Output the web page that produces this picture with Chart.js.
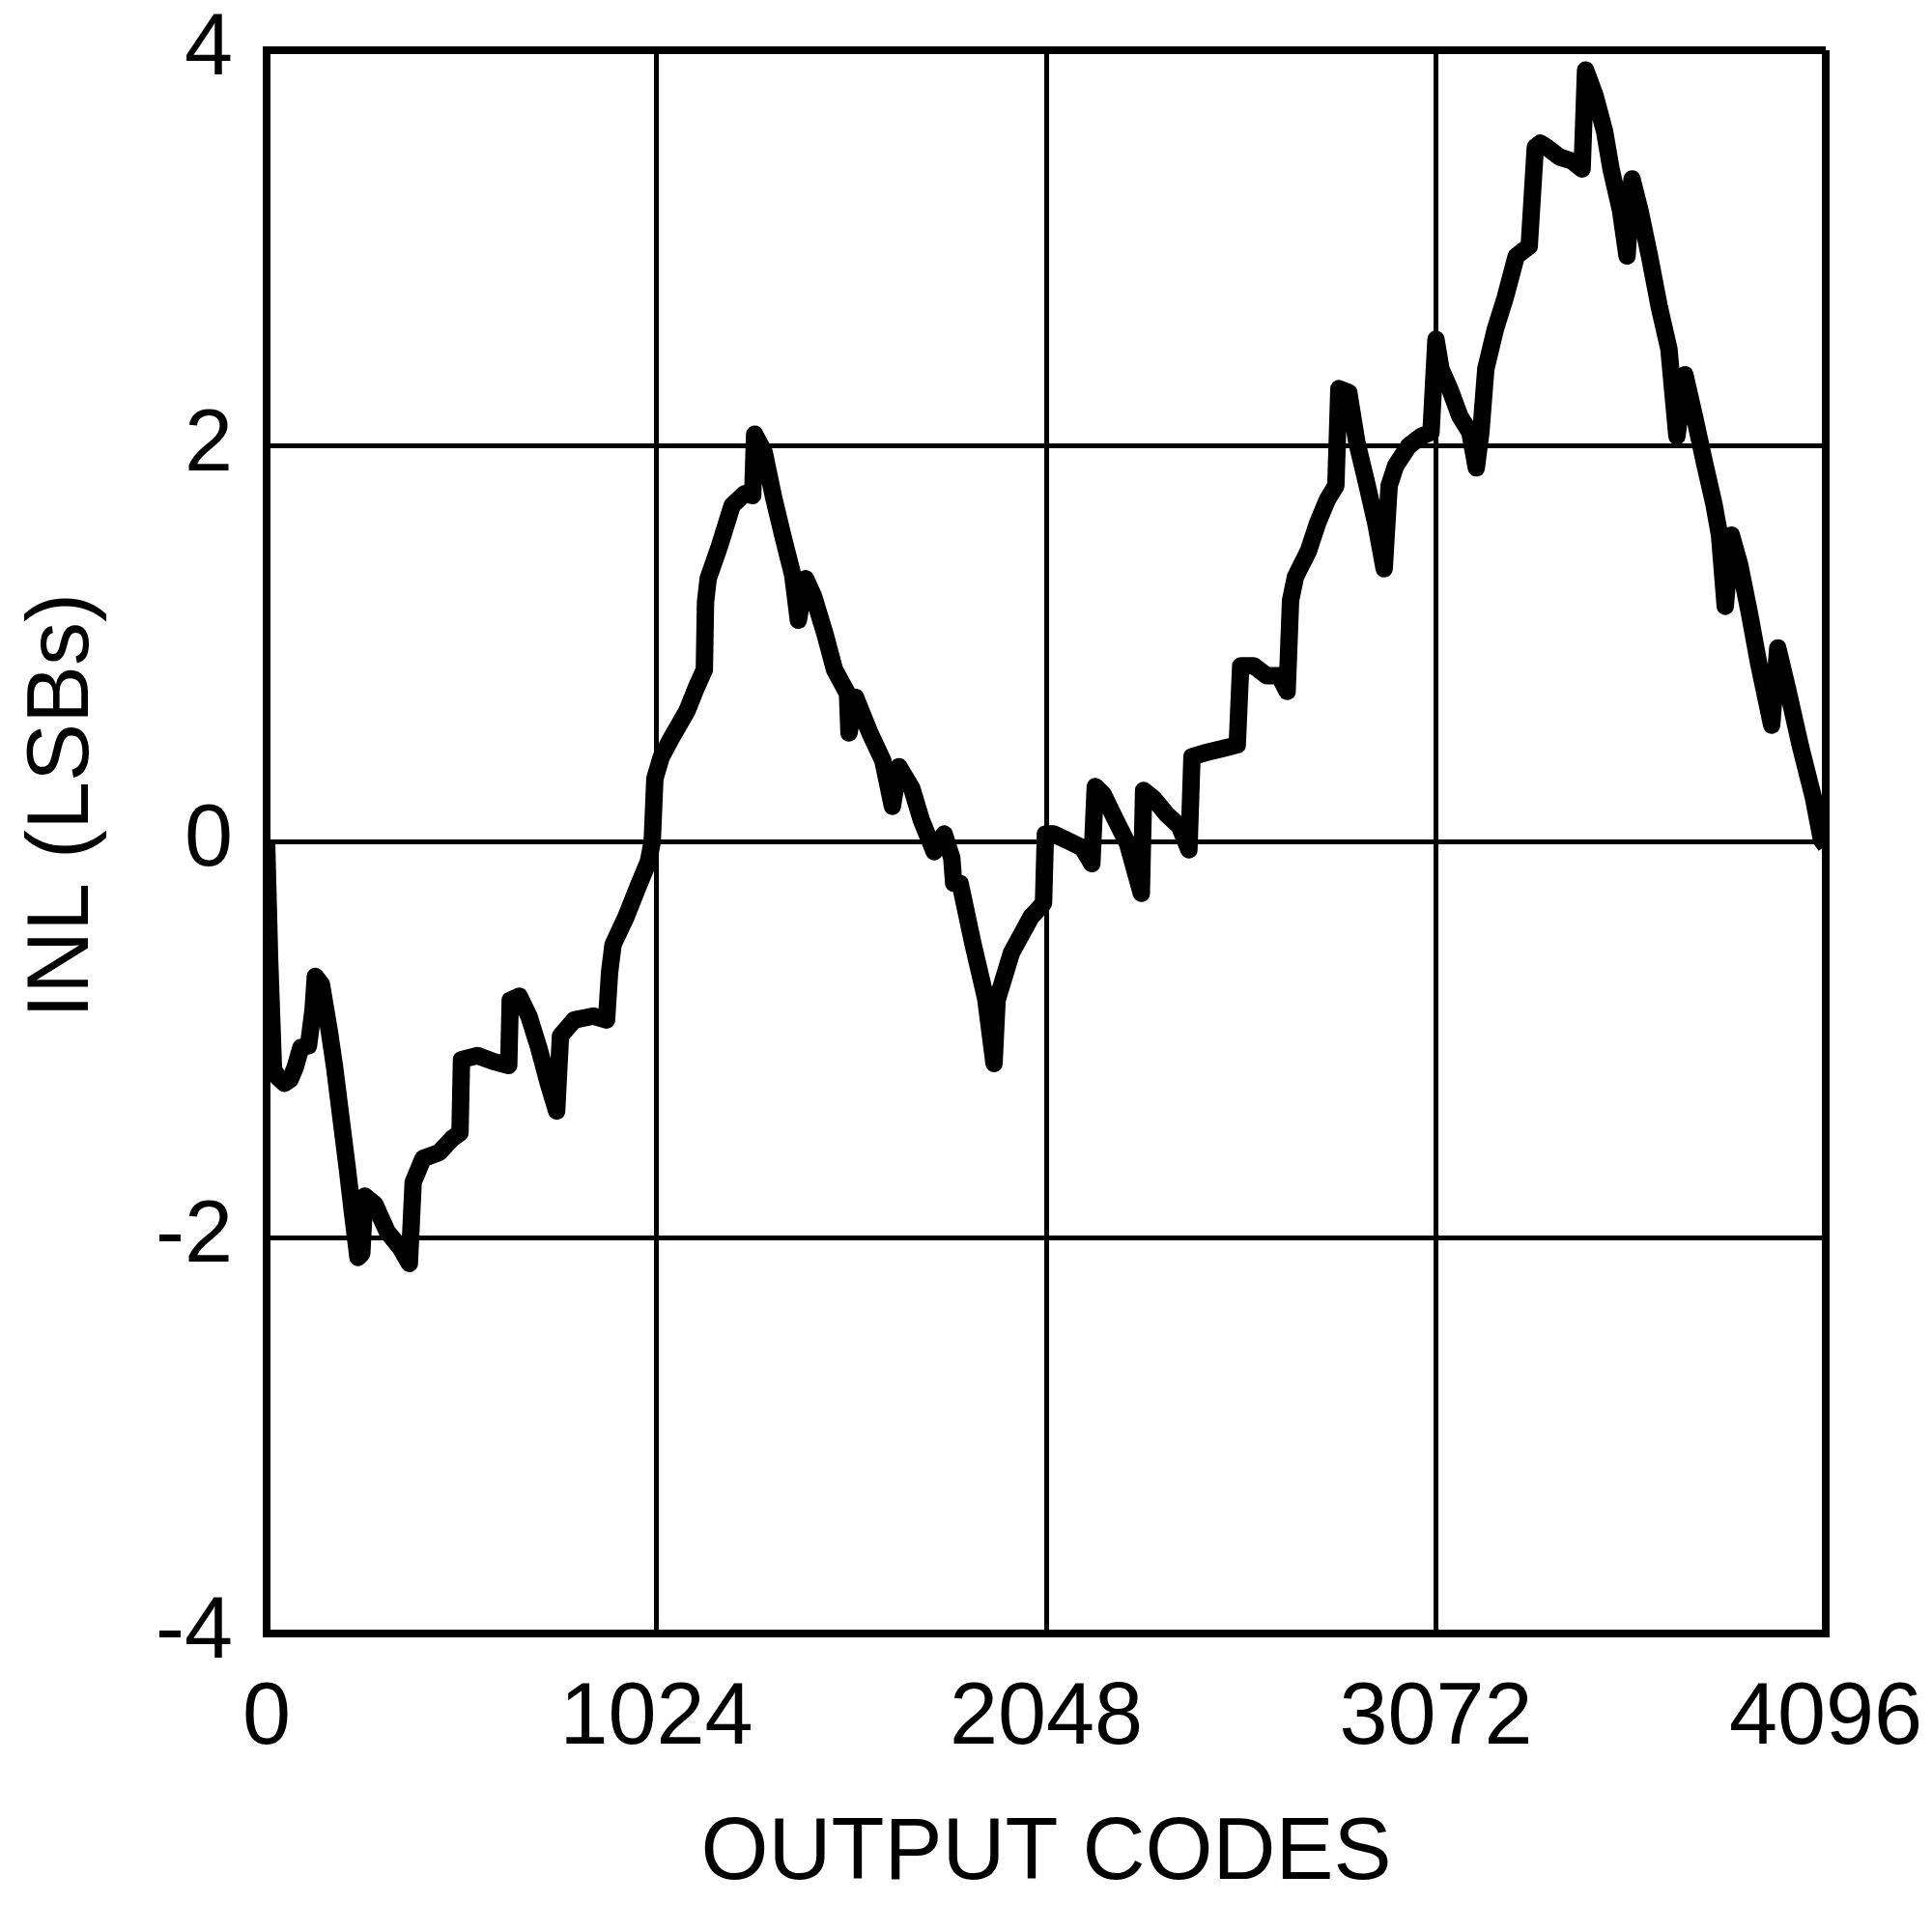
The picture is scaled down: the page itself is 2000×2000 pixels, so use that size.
<!DOCTYPE html>
<html>
<head>
<meta charset="utf-8">
<script src="https://cdn.jsdelivr.net/npm/chart.js@4/dist/chart.umd.min.js"></script>
<style>
  body { margin: 0; background: #fff; }
  #wrap { width: 2000px; height: 2000px; }
</style>
</head>
<body>
<div id="wrap"><canvas id="canvas" width="2000" height="2000"></canvas></div>
<script>
// INL vs output code
var codes = [
  0, 8, 18, 30, 47, 62, 75, 90, 110, 122, 128, 144, 165, 178, 195, 212, 226, 240, 250, 258,
  284, 317, 351, 375, 385, 411, 453, 487, 508, 512, 554, 596, 636, 640, 664, 689, 715, 740, 762, 772,
  808, 859, 893, 901, 910, 944, 977, 1003, 1013, 1020, 1037, 1062, 1104, 1129, 1150, 1153, 1160, 1189, 1223, 1256,
  1277, 1282, 1307, 1332, 1357, 1382, 1397, 1416, 1437, 1467, 1492, 1526, 1530, 1547, 1585, 1619, 1644, 1661, 1695, 1720,
  1754, 1780, 1800, 1805, 1822, 1855, 1889, 1911, 1919, 1957, 2008, 2041, 2046, 2067, 2101, 2143, 2168, 2177, 2198, 2228,
  2262, 2298, 2304, 2330, 2364, 2398, 2423, 2431, 2465, 2508, 2550, 2559, 2593, 2627, 2660, 2681, 2690, 2703, 2737, 2761,
  2787, 2809, 2817, 2843, 2864, 2889, 2914, 2936, 2949, 2966, 3000, 3034, 3059, 3072, 3085, 3110, 3135, 3161, 3178, 3190,
  3203, 3228, 3254, 3283, 3317, 3333, 3346, 3363, 3397, 3430, 3456, 3465, 3490, 3515, 3532, 3557, 3574, 3587, 3608, 3633,
  3659, 3684, 3705, 3726, 3751, 3777, 3802, 3817, 3832, 3848, 3870, 3895, 3920, 3954, 3970, 3996, 4030, 4064, 4085, 4096
];
var inl = [
  0.0, -0.6, -1.15, -1.19, -1.22, -1.2, -1.14, -1.04, -1.03, -0.85, -0.68, -0.72, -0.96, -1.13, -1.39, -1.65, -1.88, -2.1, -2.08, -1.79,
  -1.83, -1.97, -2.05, -2.13, -1.72, -1.6, -1.57, -1.5, -1.47, -1.1, -1.08, -1.11, -1.13, -0.8, -0.78, -0.88, -1.04, -1.22, -1.36, -0.98,
  -0.9, -0.88, -0.9, -0.66, -0.52, -0.38, -0.22, -0.1, 0.0, 0.32, 0.43, 0.52, 0.66, 0.78, 0.87, 1.21, 1.33, 1.49, 1.7, 1.76,
  1.75, 2.06, 1.97, 1.74, 1.54, 1.35, 1.12, 1.33, 1.24, 1.05, 0.87, 0.75, 0.55, 0.73, 0.55, 0.41, 0.18, 0.38, 0.27, 0.11,
  -0.05, 0.04, -0.08, -0.21, -0.21, -0.51, -0.79, -1.12, -0.8, -0.56, -0.38, -0.31, 0.04, 0.04, 0.01, -0.03, -0.11, 0.28, 0.24, 0.12,
  -0.01, -0.26, 0.26, 0.22, 0.14, 0.08, -0.04, 0.43, 0.45, 0.47, 0.49, 0.89, 0.89, 0.84, 0.84, 0.76, 1.22, 1.34, 1.47, 1.61,
  1.73, 1.8, 2.29, 2.27, 2.02, 1.82, 1.61, 1.38, 1.8, 1.9, 2.0, 2.05, 2.07, 2.54, 2.39, 2.28, 2.15, 2.07, 1.89, 2.07,
  2.39, 2.59, 2.75, 2.96, 3.01, 3.51, 3.53, 3.51, 3.46, 3.44, 3.4, 3.9, 3.77, 3.59, 3.4, 3.19, 2.96, 3.35, 3.19, 2.96,
  2.7, 2.49, 2.05, 2.36, 2.15, 1.92, 1.71, 1.55, 1.19, 1.55, 1.4, 1.16, 0.9, 0.59, 0.98, 0.77, 0.48, 0.22, 0.01, -0.02
];
var xTicks = [0, 1024, 2048, 3072, 4096];
var yTicks = [-4, -2, 0, 2, 4];

Chart.defaults.font.family = "'Liberation Sans', Arial, sans-serif";
Chart.defaults.color = "#000";

var points = codes.map(function (c, i) {
  return { x: c, y: inl[i] };
});

// fixed axis boxes, no extra label overhang so the plot box lands where it should
function fixBox(size, prop) {
  return function (scale) {
    scale[prop] = size;
    scale.paddingLeft = 0;
    scale.paddingRight = 0;
    scale.paddingTop = 0;
    scale.paddingBottom = 0;
  };
}

var ctx = document.getElementById("canvas");

var chart = new Chart(ctx, {
  type: "line",
  data: {
    datasets: [
      {
        label: "INL",
        data: points,
        borderColor: "#000",
        backgroundColor: "transparent",
        borderWidth: 18,
        borderJoinStyle: "round",
        pointRadius: 0,
        tension: 0,
        fill: false,
      },
    ],
  },
  options: {
    responsive: false,
    animation: false,
    layout: { padding: { top: 52, right: 110, bottom: 0, left: 0 } },
    plugins: { legend: { display: false }, tooltip: { enabled: false } },
    scales: {
      x: {
        type: "linear",
        min: 0,
        max: 4096,
        afterBuildTicks: function (scale) {
          scale.ticks = xTicks.map(function (v) { return { value: v }; });
        },
        afterFit: fixBox(309, "height"),
        ticks: {
          font: { size: 90 },
          padding: 35,
          maxRotation: 0,
          callback: function (v) { return String(v); },
        },
        grid: {
          color: "#000",
          drawTicks: false,
          lineWidth: function (c) {
            return c.tick && (c.tick.value === 0 || c.tick.value === 4096) ? 8 : 5;
          },
        },
        border: { display: true, color: "#000", width: 8 },
        title: {
          display: true,
          text: "OUTPUT CODES",
          font: { size: 90 },
          padding: { top: 4, bottom: 26 },
        },
      },
      y: {
        min: -4,
        max: 4,
        afterBuildTicks: function (scale) {
          scale.ticks = yTicks.map(function (v) { return { value: v }; });
        },
        afterFit: fixBox(276, "width"),
        ticks: {
          font: { size: 90 },
          padding: 35,
          callback: function (v) { return String(v); },
        },
        grid: {
          color: "#000",
          drawTicks: false,
          lineWidth: function (c) {
            return c.tick && (c.tick.value === -4 || c.tick.value === 4) ? 8 : 5;
          },
        },
        border: { display: true, color: "#000", width: 8 },
        title: {
          display: true,
          text: "   INL (LSBs)",
          font: { size: 90 },
          padding: { top: 12, bottom: 4 },
        },
      },
    },
  },
});
</script>
</body>
</html>
